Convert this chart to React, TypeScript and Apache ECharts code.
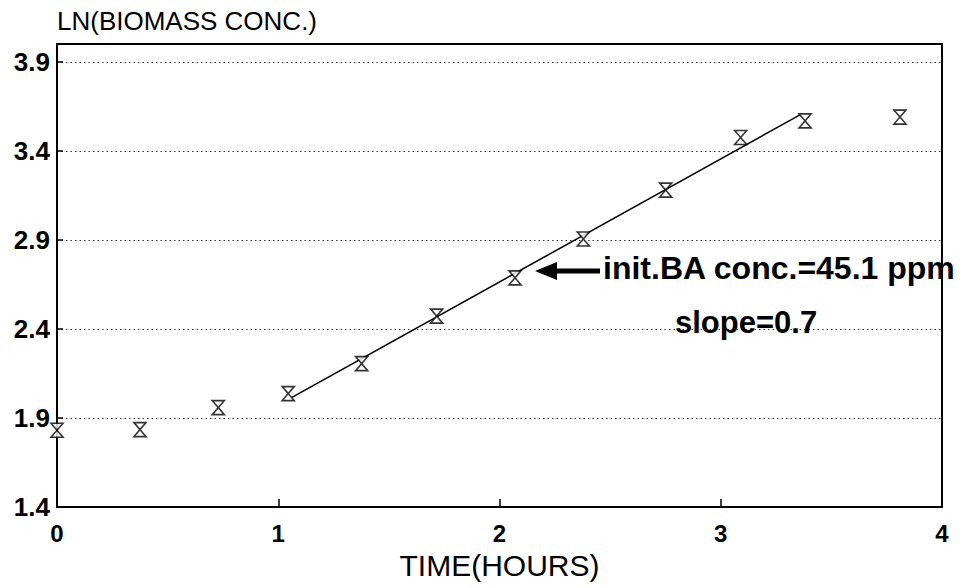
import React, { useEffect, useRef } from "react";
import * as echarts from "echarts";

const timeHours = [0, 0.375, 0.729, 1.045, 1.377, 1.716, 2.07, 2.379, 2.751, 3.09, 3.381, 3.81];
const lnBiomass = [1.831, 1.835, 1.958, 2.037, 2.205, 2.472, 2.687, 2.905, 3.18, 3.475, 3.568, 3.59];
const fitTime = [1.062, 3.358];
const fitLn = [2.016, 3.602];
const yTicks = [1.4, 1.9, 2.4, 2.9, 3.4, 3.9];
const xTicks = [0, 1, 2, 3, 4];
const annotationMain = "init.BA conc.=45.1 ppm";
const annotationSlope = "slope=0.7";

const FONT = "'Liberation Sans', Arial, Helvetica, sans-serif";
const HOURGLASS = "path://M0,0 L12,0 L6,7 L12,14 L0,14 L6,7 Z";

export default function App() {
  const ref = useRef<HTMLDivElement>(null);
  useEffect(() => {
    if (!ref.current) return;
    const chart = echarts.init(ref.current, null, { renderer: "svg" });
    const points = timeHours.map((t, i) => [t, lnBiomass[i]]);
    const fit = fitTime.map((t, i) => [t, fitLn[i]]);
    chart.setOption({
      animation: false,
      backgroundColor: "#fff",
      textStyle: { fontFamily: FONT, color: "#000" },
      grid: {
        left: 57,
        right: 26,
        top: 44,
        bottom: 81,
        show: true,
        borderColor: "#000",
        borderWidth: 2,
        backgroundColor: "transparent",
        containLabel: false,
        outerBoundsMode: "none",
      },
      xAxis: {
        type: "value",
        min: 0,
        max: 4,
        interval: 1,
        name: "TIME(HOURS)",
        nameLocation: "middle",
        nameGap: 44,
        nameMoveOverlap: false,
        nameTextStyle: {
          fontSize: 30,
          lineHeight: 28,
          fontFamily: FONT,
          color: "#000",
          verticalAlign: "top",
        },
        axisLine: { show: true, lineStyle: { color: "#000", width: 2 } },
        axisTick: { show: true, inside: true, length: 8, lineStyle: { color: "#000", width: 1.5 } },
        axisLabel: {
          fontSize: 24,
          lineHeight: 20,
          fontWeight: "bold",
          fontFamily: FONT,
          color: "#000",
          margin: 16,
          customValues: xTicks,
        },
        splitLine: { show: false },
      },
      yAxis: {
        type: "value",
        min: 1.4,
        max: 4.0,
        name: "LN(BIOMASS CONC.)",
        nameLocation: "end",
        nameGap: 10,
        nameMoveOverlap: false,
        nameTextStyle: {
          fontSize: 26,
          fontFamily: FONT,
          color: "#000",
          align: "left",
          verticalAlign: "bottom",
        },
        axisLine: { show: true, lineStyle: { color: "#000", width: 2 } },
        axisTick: {
          show: true,
          inside: true,
          length: 6,
          lineStyle: { color: "#000", width: 1.5 },
          customValues: yTicks,
        },
        axisLabel: {
          fontSize: 26,
          fontWeight: "bold",
          fontFamily: FONT,
          color: "#000",
          margin: 7,
          customValues: yTicks,
          formatter: (v: number) => v.toFixed(1),
        },
        splitLine: {
          show: true,
          lineStyle: { color: "#333", width: 1.2, type: [1.5, 3] },
        },
      },
      series: [
        {
          type: "line",
          data: fit,
          symbol: "none",
          lineStyle: { color: "#000", width: 1.5 },
          z: 2,
        },
        {
          type: "scatter",
          data: points,
          symbol: HOURGLASS,
          symbolSize: [12, 14],
          itemStyle: { color: "#fff", borderColor: "#000", borderWidth: 1.6 },
          z: 3,
        },
      ],
      graphic: [
        {
          type: "polygon",
          shape: {
            points: [
              [535, 271],
              [557, 262],
              [557, 268.5],
              [600, 268.5],
              [600, 273.5],
              [557, 273.5],
              [557, 280],
            ],
          },
          style: { fill: "#000" },
          z: 10,
        },
        {
          type: "text",
          x: 603,
          y: 268,
          style: {
            text: annotationMain,
            font: `bold 32px ${FONT}`,
            fill: "#000",
            textAlign: "left",
            textVerticalAlign: "middle",
          },
          z: 10,
        },
        {
          type: "text",
          x: 675,
          y: 322,
          style: {
            text: annotationSlope,
            font: `bold 31px ${FONT}`,
            fill: "#000",
            textAlign: "left",
            textVerticalAlign: "middle",
          },
          z: 10,
        },
      ],
    });
    return () => chart.dispose();
  }, []);
  return (
    <div
      ref={ref}
      style={{ position: "fixed", left: 0, top: 0, width: 968, height: 588, background: "#fff" }}
    />
  );
}
